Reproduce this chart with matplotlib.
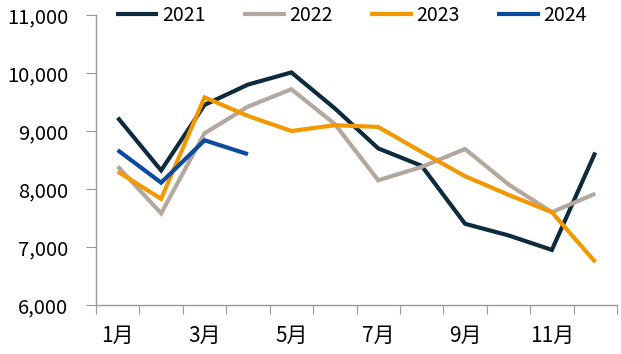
import numpy as np
import matplotlib.pyplot as plt

plt.rcParams['font.family'] = ['Noto Sans CJK SC', 'DejaVu Sans']

months = list(range(1, 13))
tick_labels = ['1月', '3月', '5月', '7月', '9月', '11月']

y2021 = [9230, 8320, 9450, 9800, 10010, 9390, 8700, 8400, 7400, 7200, 6950, 8630]
y2022 = [8390, 7580, 8960, 9420, 9720, 9120, 8150, 8380, 8690, 8080, 7600, 7920]
y2023 = [8300, 7830, 9580, 9260, 9000, 9100, 9070, 8640, 8220, 7900, 7600, 6740]
y2024 = [8670, 8110, 8840, 8600]

series = [
    ('2021', y2021, '#0d2b3c'),
    ('2022', y2022, '#b3a89e'),
    ('2023', y2023, '#f39800'),
    ('2024', y2024, '#0b4a9e'),
]

fig = plt.figure(figsize=(6.21, 3.54), dpi=100)
ax = fig.add_axes([96 / 621, 1 - 305 / 354, 521 / 621, 290 / 354])

for name, vals, color in series:
    ax.plot(months[:len(vals)], vals, color=color, lw=3, label=name,
            solid_capstyle='butt', solid_joinstyle='miter')

ax.set_xlim(0.5, 12.5)
ax.set_ylim(6000, 11000)
ax.set_yticks(np.arange(6000, 11001, 1000))
ax.set_yticklabels([f'{v:,}' for v in range(6000, 11001, 1000)], fontsize=14.5)

ax.set_xticks(np.arange(0.5, 12.6, 1))
ax.set_xticklabels([])
ax.set_xticks([1, 3, 5, 7, 9, 11], minor=True)
ax.set_xticklabels(tick_labels, minor=True, fontsize=15)
ax.tick_params(axis='x', which='minor', length=0, pad=14)
ax.tick_params(axis='x', which='major', length=6.5, color='#999999')
ax.tick_params(axis='y', length=7, color='#999999', pad=13)

for s in ['top', 'right']:
    ax.spines[s].set_visible(False)
for s in ['left', 'bottom']:
    ax.spines[s].set_color('#999999')
    ax.spines[s].set_linewidth(1)

ax.legend(loc='upper center', bbox_to_anchor=(0.49, 1.095), ncol=4, frameon=False,
          fontsize=14, handlelength=2.2, handletextpad=0.2, columnspacing=1.9)

fig.savefig('out.png', dpi=100)
